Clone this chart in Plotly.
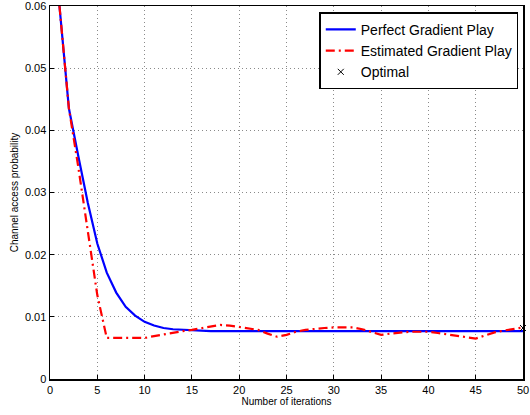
import plotly.graph_objects as go

iterations = list(range(1, 51))
perfect = [0.0600, 0.0435, 0.0358, 0.0283, 0.0218, 0.0171, 0.0139, 0.0116, 0.0102, 0.0092,
           0.0086, 0.0082, 0.0080, 0.0079, 0.0078, 0.0077, 0.0077, 0.0077, 0.0077, 0.0077,
           0.0077, 0.0077, 0.0077, 0.0077, 0.0077, 0.0077, 0.0077, 0.0077, 0.0077, 0.0077,
           0.0077, 0.0077, 0.0077, 0.0077, 0.0077, 0.0077, 0.0077, 0.0077, 0.0077, 0.0077,
           0.0077, 0.0077, 0.0077, 0.0077, 0.0077, 0.0077, 0.0077, 0.0077, 0.0077, 0.0077]
estimated = [0.0600, 0.0435, 0.0340, 0.0235, 0.0135, 0.0066, 0.0066, 0.0066, 0.0066, 0.0066,
             0.0069, 0.0072, 0.0075, 0.0077, 0.0079, 0.0082, 0.0085, 0.0087, 0.0086, 0.0084,
             0.0082, 0.0079, 0.0073, 0.0068, 0.0071, 0.0076, 0.0079, 0.0081, 0.0082, 0.0083,
             0.0083, 0.0083, 0.0080, 0.0075, 0.0071, 0.0073, 0.0075, 0.0076, 0.0076, 0.0076,
             0.0074, 0.0072, 0.0070, 0.0067, 0.0065, 0.0070, 0.0075, 0.0078, 0.0080, 0.0083]
optimal_x = [50]
optimal_y = [0.0082]

x_ticks = [0, 5, 10, 15, 20, 25, 30, 35, 40, 45, 50]
y_ticks = [0, 0.01, 0.02, 0.03, 0.04, 0.05, 0.06]
y_tick_labels = ["0", "0.01", "0.02", "0.03", "0.04", "0.05", "0.06"]

fig = go.Figure()
fig.add_trace(go.Scatter(x=iterations, y=perfect, mode="lines", name="Perfect Gradient Play",
                         line=dict(color="#0000ff", width=2.2)))
fig.add_trace(go.Scatter(x=iterations, y=estimated, mode="lines", name="Estimated Gradient Play",
                         line=dict(color="#ff0000", width=2.2, dash="9px,4px,2px,4px")))
fig.add_trace(go.Scatter(x=optimal_x, y=optimal_y, mode="markers", name="Optimal",
                         marker=dict(symbol="x-thin", size=6, line=dict(color="black", width=1)),
                         cliponaxis=False))

axis_common = dict(showline=True, linecolor="black", linewidth=1.5, mirror=True,
                   ticks="inside", ticklen=4, tickcolor="black", automargin=False,
                   ticklabeloverflow="allow",
                   showgrid=True, gridcolor="#8a8a8a", griddash="1px,3px", gridwidth=1,
                   zeroline=False, tickfont=dict(size=11, color="black"))

fig.update_xaxes(range=[0, 50], tickvals=x_ticks,
                 title=dict(text="Number of iterations", font=dict(size=10, color="black"), standoff=2),
                 **axis_common)
fig.update_yaxes(range=[0, 0.06], tickvals=y_ticks, ticktext=y_tick_labels,
                 title=dict(text="Channel access probability", font=dict(size=10, color="black"), standoff=4),
                 **axis_common)

fig.update_layout(
    width=530, height=415,
    margin=dict(l=50, r=7, t=6, b=36),
    paper_bgcolor="white", plot_bgcolor="white",
    font=dict(family="Liberation Sans, Arial, sans-serif", color="black"),
    legend=dict(x=0.99, y=0.983, xanchor="right", yanchor="top",
                bgcolor="white", bordercolor="black", borderwidth=1.5,
                font=dict(size=14), tracegroupgap=0, itemwidth=30),
    showlegend=True,
)

fig.write_html("out.html", config={"displayModeBar": False, "staticPlot": True},
               post_script="document.body.style.margin='0';document.body.style.overflow='hidden';")
